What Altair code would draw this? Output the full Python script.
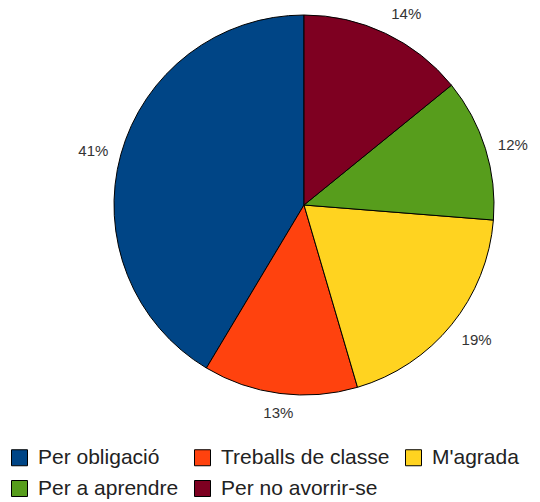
import altair as alt
import pandas as pd

categories = ["Per obligació", "Treballs de classe", "M'agrada", "Per a aprendre", "Per no avorrir-se"]
values = [41, 13, 19, 12, 14]
colors = ["#004586", "#ff420e", "#ffd320", "#579d1c", "#7e0021"]
# drawing order clockwise from 12 o'clock
draw_order = [5, 4, 3, 2, 1]
# label anchor relative to its point outside the pie
label_align = ["right", "center", "left", "left", "left"]
label_base = ["middle", "top", "top", "middle", "bottom"]

df = pd.DataFrame({
    "cat": categories,
    "val": values,
    "ord": draw_order,
    "al": label_align,
    "bl": label_base,
    "lab": [f"{v}%" for v in values],
})
TOTAL = sum(values)

CX, CY, R = 296, 197, 190
LR = 203

pie = alt.Chart(df).mark_arc(radius=R, stroke="#000000", strokeWidth=1).encode(
    theta=alt.Theta("val:Q", stack=True),
    order=alt.Order("ord:Q", sort="ascending"),
    x=alt.value(CX), y=alt.value(CY),
    color=alt.Color(
        "cat:N",
        scale=alt.Scale(domain=categories, range=colors),
        legend=alt.Legend(
            title=None, orient="none", legendX=1, legendY=439,
            direction="horizontal", columns=3, columnPadding=13, rowPadding=9,
            symbolType="square", symbolSize=256, symbolStrokeColor="#000000",
            symbolStrokeWidth=1, symbolOpacity=1, labelFontSize=21,
            labelFont="Liberation Sans", labelColor="#222222", labelOffset=8,
            labelLimit=300,
        ),
    ),
)

lbase = alt.Chart(df).transform_window(
    cum="sum(val)", sort=[alt.SortField("ord", order="ascending")]
).transform_calculate(mid="datum.cum - datum.val / 2")

def lbl(align, baseline):
    return lbase.transform_filter(
        (alt.datum.al == align) & (alt.datum.bl == baseline)
    ).mark_text(
        radius=LR, font="Liberation Sans", fontSize=15,
        color="#333333", align=align, baseline=baseline).encode(
        theta=alt.Theta("mid:Q", stack=None,
                        scale=alt.Scale(domain=[0, TOTAL], range=[0, 6.283185307179586])),
        x=alt.value(CX), y=alt.value(CY),
        text="lab:N",
    )

combos = sorted(set(zip(label_align, label_base)))
labels = alt.layer(*[lbl(a, b) for a, b in combos])

chart = (pie + labels).resolve_scale(theta="independent").properties(
    width=524, height=494, autosize=alt.AutoSizeParams(type="none"), padding=0
).configure_view(stroke=None)

chart.save("out.html", embed_options={"renderer": "svg", "actions": False})
